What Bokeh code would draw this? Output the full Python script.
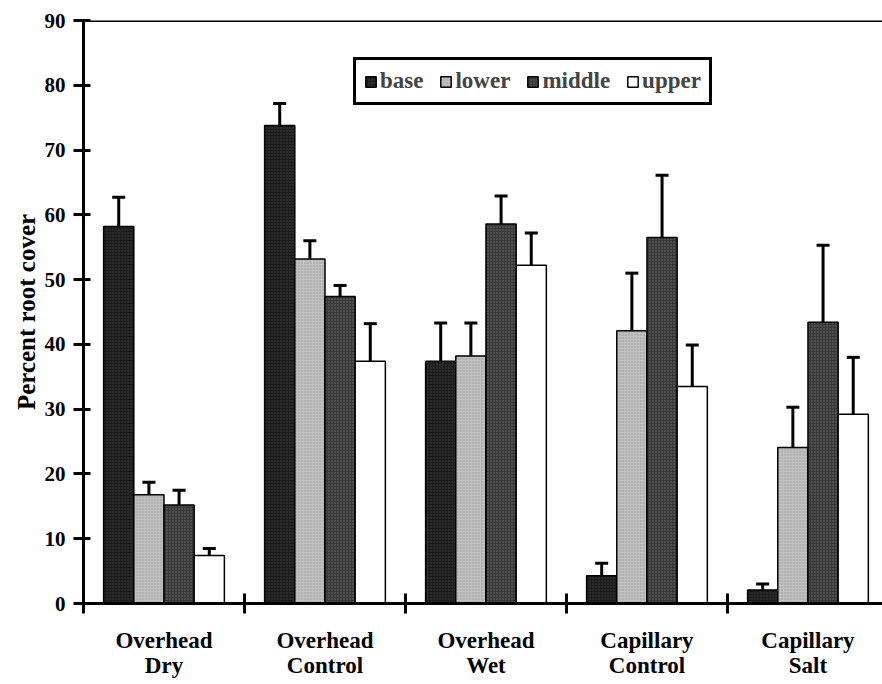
from bokeh.plotting import figure
from bokeh.models import (ColumnDataSource, Range1d, FixedTicker, Whisker, TeeHead,
                          Span, Legend, LegendItem)
from bokeh.transform import dodge
from bokeh.embed import file_html
from bokeh.resources import INLINE

# Percent root cover by treatment and root zone (mean and upper error)
groups = ["Overhead\nDry", "Overhead\nControl", "Overhead\nWet",
          "Capillary\nControl", "Capillary\nSalt"]
zones = ["base", "lower", "middle", "upper"]

base = [58.2, 73.8, 37.4, 4.3, 2.1]
base_err = [4.5, 3.4, 5.9, 1.9, 0.9]
lower = [16.8, 53.2, 38.2, 42.1, 24.1]
lower_err = [1.9, 2.8, 5.1, 8.9, 6.2]
middle = [15.2, 47.4, 58.6, 56.5, 43.4]
middle_err = [2.3, 1.7, 4.3, 9.6, 11.9]
upper = [7.4, 37.4, 52.2, 33.5, 29.2]
upper_err = [1.1, 5.8, 5.0, 6.4, 8.8]

y_ticks = [0, 10, 20, 30, 40, 50, 60, 70, 80, 90]

series = {"base": (base, base_err), "lower": (lower, lower_err),
          "middle": (middle, middle_err), "upper": (upper, upper_err)}
fills = {"base": "#1c1c1c", "lower": "#c0c0c0", "middle": "#383838", "upper": "#ffffff"}
# fine stipple texture on the shaded bars
hatch = {"base": ("dot", "#8a8a8a", 0.35), "lower": ("dot", "#6e6e6e", 0.45),
         "middle": ("dot", "#b5b5b5", 0.45), "upper": (" ", "#ffffff", 0.0)}

FONT = "Liberation Serif"

n = len(groups)
centers = [i + 0.5 for i in range(n)]
bar_w = 0.1875
offsets = [-1.5 * bar_w, -0.5 * bar_w, 0.5 * bar_w, 1.5 * bar_w]

p = figure(width=882, height=684, output_backend="svg", toolbar_location=None,
           x_range=Range1d(0, 4.963), y_range=Range1d(0, 90),
           min_border_left=83, min_border_right=0, min_border_top=20,
           min_border_bottom=81)
p.outline_line_color = None
p.xgrid.visible = False
p.ygrid.visible = False
p.background_fill_color = "white"
p.border_fill_color = "white"

items = []
for zone, off in zip(zones, offsets):
    vals, errs = series[zone]
    src = ColumnDataSource(dict(x=centers, top=vals,
                                hi=[v + e for v, e in zip(vals, errs)]))
    pat, hcol, halpha = hatch[zone]
    r = p.vbar(x=dodge("x", off, range=p.x_range), top="top", width=bar_w,
               bottom=0, source=src, fill_color=fills[zone], line_color="black",
               line_width=1.5, hatch_pattern=pat, hatch_color=hcol,
               hatch_alpha=halpha, hatch_scale=3, hatch_weight=1)
    items.append(LegendItem(label=zone, renderers=[r]))
    w = Whisker(base=dodge("x", off, range=p.x_range), lower="top", upper="hi",
                source=src, line_width=3, line_color="black",
                upper_head=TeeHead(size=13, line_width=3, line_color="black"),
                lower_head=None)
    p.add_layout(w)

# top rule of the plotting area
p.add_layout(Span(location=90, dimension="width", line_color="black", line_width=3))

# x axis: boundaries between treatments as ticks, names centred below
xa = p.xaxis[0]
xa.ticker = FixedTicker(ticks=centers, minor_ticks=[0, 1, 2, 3, 4, 5])
xa.major_label_overrides = {c: g for c, g in zip(centers, groups)}
xa.major_tick_in = 0
xa.major_tick_out = 0
xa.minor_tick_in = 10
xa.minor_tick_out = 10
xa.minor_tick_line_width = 3
xa.minor_tick_line_color = "black"
xa.axis_line_width = 3
xa.major_label_standoff = 14
xa.major_label_text_font = FONT
xa.major_label_text_font_style = "bold"
xa.major_label_text_font_size = "23px"
xa.major_label_text_color = "black"
xa.major_label_text_line_height = 1.0

ya = p.yaxis[0]
ya.ticker = FixedTicker(ticks=y_ticks)
ya.minor_tick_line_color = None
ya.major_tick_in = 7
ya.major_tick_out = 10
ya.major_tick_line_width = 3
ya.axis_line_width = 3
ya.major_label_standoff = 8
ya.major_label_text_font = FONT
ya.major_label_text_font_style = "bold"
ya.major_label_text_font_size = "21px"
ya.major_label_text_color = "black"
ya.axis_label = "Percent root cover"
ya.axis_label_text_font = FONT
ya.axis_label_text_font_style = "bold"
ya.axis_label_text_font_size = "25px"
ya.axis_label_text_color = "black"
ya.axis_label_standoff = 2

legend = Legend(items=items, orientation="horizontal", location=(270, 498),
                border_line_color="black", border_line_width=3, border_line_alpha=1,
                label_text_font=FONT, label_text_font_style="bold",
                label_text_font_size="23px", label_standoff=3,
                glyph_width=13, glyph_height=13, spacing=16, padding=8,
                margin=0, label_height=22, background_fill_alpha=1)
p.add_layout(legend, "center")

open("out.html", "w").write(file_html(p, INLINE))
